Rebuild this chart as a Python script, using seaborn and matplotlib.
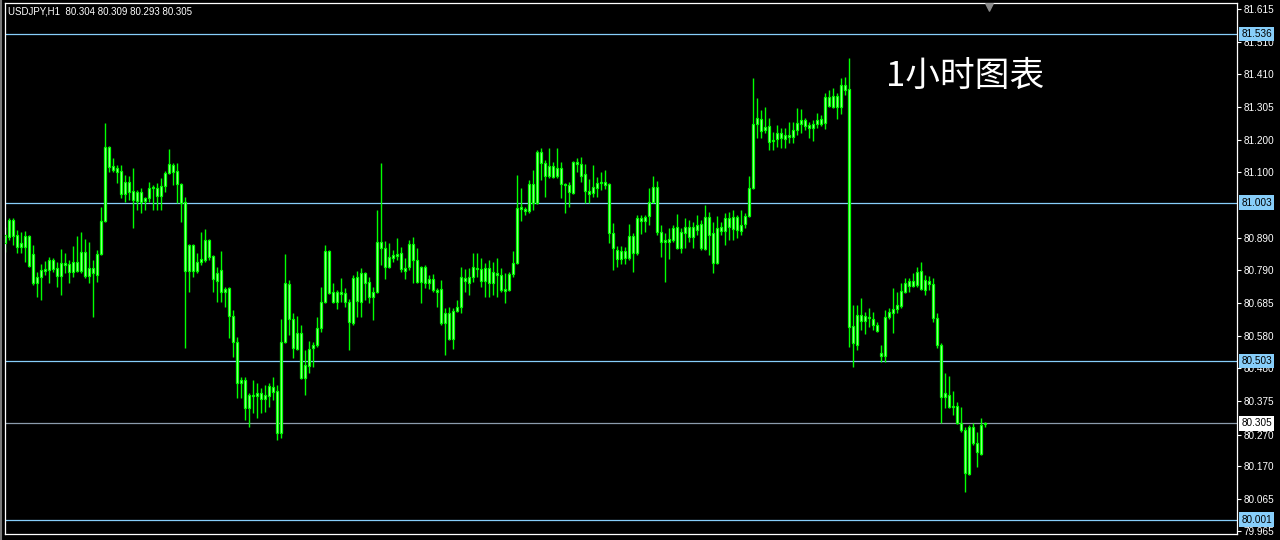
import numpy as np
import matplotlib
matplotlib.use("Agg")
import matplotlib.pyplot as plt
import matplotlib.transforms as mtransforms
import seaborn as sns

symbol_caption = "USDJPY,H1  80.304 80.309 80.293 80.305"
chart_title = "1小时图表"

opens = [
    80.876, 80.894, 80.948, 80.900, 80.863, 80.863, 80.897, 80.840, 80.749, 80.768,
    80.787, 80.790, 80.821, 80.796, 80.771, 80.812, 80.808, 80.784, 80.815, 80.787,
    80.847, 80.771, 80.796, 80.774, 80.840, 80.945, 81.179, 81.118, 81.112, 81.103,
    81.030, 81.068, 81.040, 81.008, 81.036, 81.008, 81.017, 81.049, 81.049, 81.024,
    81.055, 81.096, 81.121, 81.103, 81.062, 81.005, 80.787, 80.869, 80.787, 80.815,
    80.821, 80.885, 80.834, 80.755, 80.790, 80.720, 80.733, 80.644, 80.562, 80.433,
    80.442, 80.354, 80.395, 80.392, 80.401, 80.382, 80.392, 80.420, 80.407, 80.275,
    80.562, 80.745, 80.635, 80.540, 80.591, 80.448, 80.486, 80.543, 80.553, 80.607,
    80.689, 80.850, 80.720, 80.689, 80.720, 80.717, 80.689, 80.622, 80.768, 80.689,
    80.780, 80.752, 80.705, 80.720, 80.878, 80.859, 80.799, 80.828, 80.834, 80.844,
    80.787, 80.799, 80.872, 80.821, 80.752, 80.799, 80.749, 80.761, 80.727, 80.730,
    80.622, 80.654, 80.572, 80.660, 80.673, 80.765, 80.749, 80.768, 80.796, 80.793,
    80.755, 80.796, 80.749, 80.780, 80.774, 80.724, 80.727, 80.777, 80.812, 80.983,
    80.983, 80.976, 81.062, 81.002, 81.163, 81.128, 81.087, 81.118, 81.087, 81.112,
    81.062, 81.058, 81.033, 81.131, 81.125, 81.093, 81.040, 81.033, 81.049, 81.065,
    81.068, 81.062, 80.907, 80.853, 80.824, 80.850, 80.828, 80.897, 80.844, 80.954,
    80.945, 80.960, 81.005, 81.052, 80.910, 80.878, 80.888, 80.885, 80.926, 80.859,
    80.907, 80.926, 80.894, 80.916, 80.935, 80.856, 80.957, 80.907, 80.812, 80.926,
    80.913, 80.954, 80.919, 80.957, 80.913, 80.935, 80.960, 81.049, 81.251, 81.267,
    81.232, 81.245, 81.197, 81.204, 81.223, 81.204, 81.216, 81.210, 81.232, 81.251,
    81.264, 81.248, 81.239, 81.251, 81.267, 81.254, 81.337, 81.305, 81.340, 81.305,
    81.374, 81.362, 80.613, 80.553, 80.648, 80.629, 80.641, 80.635, 80.616, 80.528,
    80.518, 80.641, 80.654, 80.667, 80.676, 80.720, 80.739, 80.755, 80.742, 80.787,
    80.727, 80.755, 80.745, 80.638, 80.553, 80.389, 80.395, 80.360, 80.360, 80.307,
    80.284, 80.145, 80.294, 80.243, 80.208, 80.304,
]

highs = [
    80.926, 80.954, 80.954, 80.916, 80.910, 80.913, 80.900, 80.869, 80.784, 80.808,
    80.818, 80.830, 80.828, 80.815, 80.856, 80.844, 80.821, 80.866, 80.897, 80.910,
    80.888, 80.878, 80.821, 80.853, 80.989, 81.255, 81.182, 81.144, 81.121, 81.121,
    81.090, 81.087, 81.112, 81.043, 81.049, 81.020, 81.068, 81.058, 81.065, 81.080,
    81.103, 81.172, 81.128, 81.128, 81.065, 81.020, 80.872, 80.872, 80.844, 80.910,
    80.919, 80.888, 80.837, 80.799, 80.850, 80.736, 80.736, 80.663, 80.578, 80.452,
    80.452, 80.401, 80.442, 80.433, 80.417, 80.426, 80.433, 80.452, 80.426, 80.635,
    80.840, 80.758, 80.654, 80.644, 80.616, 80.537, 80.565, 80.562, 80.641, 80.736,
    80.869, 80.853, 80.749, 80.727, 80.765, 80.733, 80.698, 80.774, 80.787, 80.796,
    80.783, 80.768, 80.736, 80.979, 81.128, 80.882, 80.875, 80.853, 80.891, 80.863,
    80.828, 80.885, 80.894, 80.859, 80.802, 80.805, 80.774, 80.777, 80.733, 80.758,
    80.670, 80.673, 80.670, 80.695, 80.799, 80.793, 80.796, 80.844, 80.844, 80.828,
    80.812, 80.821, 80.815, 80.828, 80.796, 80.780, 80.784, 80.850, 81.090, 81.049,
    80.989, 81.074, 81.106, 81.169, 81.175, 81.137, 81.175, 81.131, 81.175, 81.131,
    81.065, 81.068, 81.134, 81.144, 81.147, 81.125, 81.077, 81.121, 81.084, 81.099,
    81.106, 81.065, 80.939, 80.866, 80.866, 80.863, 80.935, 80.907, 80.964, 80.964,
    80.964, 81.049, 81.087, 81.071, 80.932, 80.907, 80.922, 80.932, 80.967, 80.922,
    80.954, 80.948, 80.941, 80.964, 80.948, 80.995, 80.973, 80.941, 80.960, 80.941,
    80.970, 80.973, 80.979, 80.964, 80.979, 80.970, 81.087, 81.397, 81.333, 81.295,
    81.305, 81.270, 81.226, 81.248, 81.239, 81.239, 81.258, 81.258, 81.302, 81.298,
    81.270, 81.258, 81.264, 81.286, 81.280, 81.349, 81.359, 81.365, 81.349, 81.397,
    81.400, 81.460, 80.679, 80.679, 80.701, 80.657, 80.670, 80.657, 80.625, 80.553,
    80.663, 80.670, 80.733, 80.720, 80.749, 80.765, 80.765, 80.780, 80.799, 80.815,
    80.774, 80.771, 80.765, 80.654, 80.559, 80.464, 80.455, 80.407, 80.373, 80.357,
    80.294, 80.300, 80.307, 80.278, 80.322, 80.309,
]

lows = [
    80.847, 80.885, 80.869, 80.844, 80.844, 80.815, 80.799, 80.742, 80.705, 80.695,
    80.774, 80.749, 80.784, 80.736, 80.711, 80.780, 80.749, 80.768, 80.784, 80.780,
    80.765, 80.749, 80.641, 80.752, 80.837, 80.941, 81.099, 81.099, 81.065, 81.017,
    81.005, 81.011, 80.922, 80.979, 80.970, 80.979, 81.005, 80.979, 80.979, 80.979,
    81.036, 81.093, 81.058, 81.002, 80.941, 80.543, 80.720, 80.768, 80.780, 80.805,
    80.815, 80.821, 80.720, 80.689, 80.689, 80.673, 80.575, 80.515, 80.385, 80.385,
    80.316, 80.294, 80.338, 80.322, 80.338, 80.341, 80.357, 80.379, 80.253, 80.259,
    80.559, 80.584, 80.512, 80.537, 80.445, 80.395, 80.464, 80.483, 80.546, 80.594,
    80.685, 80.714, 80.686, 80.667, 80.689, 80.673, 80.537, 80.616, 80.641, 80.641,
    80.695, 80.685, 80.632, 80.717, 80.805, 80.761, 80.796, 80.815, 80.821, 80.784,
    80.761, 80.790, 80.749, 80.749, 80.685, 80.733, 80.730, 80.720, 80.673, 80.616,
    80.521, 80.569, 80.540, 80.657, 80.654, 80.720, 80.711, 80.752, 80.768, 80.736,
    80.705, 80.705, 80.711, 80.705, 80.720, 80.685, 80.724, 80.768, 80.808, 80.945,
    80.964, 80.970, 80.979, 80.999, 81.074, 81.020, 81.080, 81.080, 81.082, 81.017,
    80.970, 80.989, 81.030, 81.099, 81.068, 81.002, 81.002, 81.020, 81.020, 81.043,
    81.046, 80.876, 80.790, 80.799, 80.808, 80.808, 80.821, 80.784, 80.837, 80.903,
    80.910, 80.932, 81.002, 80.900, 80.831, 80.752, 80.824, 80.878, 80.856, 80.844,
    80.859, 80.878, 80.859, 80.900, 80.853, 80.853, 80.837, 80.780, 80.808, 80.900,
    80.869, 80.885, 80.885, 80.891, 80.900, 80.922, 80.957, 81.046, 81.207, 81.207,
    81.223, 81.169, 81.169, 81.179, 81.175, 81.175, 81.191, 81.191, 81.216, 81.223,
    81.232, 81.207, 81.197, 81.239, 81.245, 81.235, 81.305, 81.302, 81.267, 81.283,
    81.343, 80.546, 80.483, 80.537, 80.600, 80.587, 80.610, 80.600, 80.594, 80.499,
    80.499, 80.635, 80.591, 80.654, 80.670, 80.717, 80.720, 80.736, 80.736, 80.727,
    80.711, 80.727, 80.625, 80.543, 80.307, 80.354, 80.354, 80.332, 80.304, 80.278,
    80.088, 80.142, 80.237, 80.167, 80.205, 80.293,
]

closes = [
    80.900, 80.948, 80.897, 80.863, 80.876, 80.897, 80.802, 80.749, 80.768, 80.790,
    80.793, 80.821, 80.793, 80.771, 80.812, 80.805, 80.784, 80.815, 80.787, 80.847,
    80.771, 80.796, 80.780, 80.840, 80.945, 81.179, 81.116, 81.106, 81.099, 81.030,
    81.068, 81.036, 81.011, 81.036, 81.005, 81.017, 81.049, 81.052, 81.024, 81.055,
    81.096, 81.125, 81.099, 81.062, 81.002, 80.787, 80.869, 80.787, 80.815, 80.824,
    80.885, 80.831, 80.761, 80.780, 80.720, 80.730, 80.644, 80.562, 80.433, 80.442,
    80.354, 80.395, 80.392, 80.401, 80.382, 80.395, 80.423, 80.404, 80.275, 80.562,
    80.749, 80.635, 80.543, 80.591, 80.448, 80.490, 80.540, 80.553, 80.607, 80.689,
    80.850, 80.717, 80.689, 80.720, 80.714, 80.689, 80.625, 80.765, 80.692, 80.780,
    80.749, 80.705, 80.720, 80.878, 80.859, 80.799, 80.831, 80.837, 80.840, 80.793,
    80.796, 80.872, 80.821, 80.752, 80.799, 80.749, 80.761, 80.727, 80.720, 80.622,
    80.654, 80.572, 80.660, 80.673, 80.768, 80.755, 80.768, 80.799, 80.793, 80.755,
    80.796, 80.749, 80.784, 80.774, 80.727, 80.730, 80.777, 80.812, 80.986, 80.989,
    80.976, 81.062, 81.002, 81.163, 81.128, 81.087, 81.118, 81.084, 81.112, 81.062,
    81.058, 81.036, 81.131, 81.125, 81.087, 81.040, 81.030, 81.052, 81.065, 81.068,
    81.058, 80.907, 80.859, 80.824, 80.850, 80.828, 80.897, 80.844, 80.954, 80.945,
    80.957, 81.005, 81.052, 80.910, 80.878, 80.885, 80.878, 80.922, 80.859, 80.910,
    80.926, 80.894, 80.926, 80.932, 80.859, 80.957, 80.900, 80.812, 80.922, 80.913,
    80.954, 80.926, 80.957, 80.916, 80.932, 80.960, 81.049, 81.251, 81.270, 81.229,
    81.242, 81.194, 81.201, 81.223, 81.207, 81.216, 81.210, 81.232, 81.254, 81.264,
    81.245, 81.239, 81.251, 81.264, 81.251, 81.337, 81.308, 81.340, 81.305, 81.374,
    81.359, 80.610, 80.559, 80.648, 80.629, 80.644, 80.638, 80.616, 80.597, 80.518,
    80.641, 80.657, 80.667, 80.679, 80.724, 80.749, 80.755, 80.739, 80.784, 80.730,
    80.758, 80.745, 80.638, 80.553, 80.389, 80.401, 80.357, 80.357, 80.307, 80.284,
    80.148, 80.294, 80.243, 80.215, 80.300, 80.305,
]

price_ticks = [81.615, 81.510, 81.410, 81.305, 81.200, 81.100, 80.890, 80.790,
               80.685, 80.580, 80.480, 80.375, 80.270, 80.170, 80.065, 79.965]
level_lines = [81.536, 81.003, 80.503, 80.001]
bid_price = 80.305

# ---------------- style ----------------
sns.set_theme(style="dark", rc={
    "axes.facecolor": "black",
    "figure.facecolor": "black",
    "axes.edgecolor": "white",
    "axes.grid": False,
    "text.color": "white",
    "ytick.color": "white",
    "xtick.color": "white",
})
plt.rcParams["font.family"] = ["Liberation Sans", "Noto Sans CJK SC", "DejaVu Sans"]

CANDLE = "#00ff00"
BODY_FILL = "#b8ffb0"
LEVEL = "#87cefa"
BID_LINE = "#8c9cac"

W, H = 1280, 540
fig = plt.figure(figsize=(W / 100, H / 100), dpi=100)
ax = fig.add_axes([5 / W, 6 / H, 1232 / W, 531 / H])
ax.set_facecolor("black")

o = np.array(opens)
h = np.array(highs)
l = np.array(lows)
c = np.array(closes)
idx = np.arange(len(c))

# level lines
for v in level_lines:
    ax.axhline(v, color=LEVEL, lw=0.9, zorder=1)
ax.axhline(bid_price, color=BID_LINE, lw=0.9, zorder=1)

# wicks and bodies
ax.vlines(idx, l, h, color=CANDLE, lw=1.0, zorder=2)
body_bottom = np.minimum(o, c)
body_height = np.abs(c - o)
ax.bar(idx, body_height, bottom=body_bottom, width=0.5,
       facecolor=BODY_FILL, edgecolor=CANDLE, linewidth=0.9, zorder=3)

ax.set_xlim(-0.075, 307.925)
ax.set_ylim(79.9556, 81.6335)

# axes frame
for sp in ax.spines.values():
    sp.set_color("white")
    sp.set_linewidth(0.9)

# right price scale
ax.yaxis.tick_right()
ax.set_yticks(price_ticks)
ax.set_yticklabels([f"{t:.3f}" for t in price_ticks])
ax.tick_params(axis="y", colors="white", length=3, width=0.8, pad=2,
               labelsize=7.2, direction="out", left=False, right=True)

# bottom time ticks (labels cut off in reference)
ax.set_xticks(idx[::16])
ax.set_xticklabels([])
ax.tick_params(axis="x", colors="white", length=4, width=0.8, direction="out")

# highlighted price labels
trans = mtransforms.blended_transform_factory(ax.transAxes, ax.transData)
for v in level_lines:
    ax.text(1.0035, v, f"{v:.3f}", transform=trans, ha="left", va="center",
            fontsize=7.2, color="black", clip_on=False, zorder=6,
            bbox=dict(boxstyle="square,pad=0.22", fc=LEVEL, ec="none"))
ax.text(1.0035, bid_price, f"{bid_price:.3f}", transform=trans, ha="left", va="center",
        fontsize=7.2, color="black", clip_on=False, zorder=6,
        bbox=dict(boxstyle="square,pad=0.22", fc="white", ec="none"))

# chart shift marker
ax.scatter([len(c)], [0.993], marker="v", s=28, color="#8a8a8a",
           transform=mtransforms.blended_transform_factory(ax.transData, ax.transAxes),
           clip_on=False, zorder=6)

# captions
fig.text(8 / W, 1 - 12 / H, symbol_caption, ha="left", va="center",
         fontsize=7, color="white")
fig.text(886 / W, 1 - 76 / H, chart_title, ha="left", va="center",
         fontsize=25, color="white", family=["Noto Sans CJK SC", "DejaVu Sans"])

# window border at left
fig.add_artist(plt.Line2D([1 / W, 1 / W], [0, 1], color="#7a7a7a", lw=1.5))

fig.savefig("out.png", dpi=100, facecolor="black")
